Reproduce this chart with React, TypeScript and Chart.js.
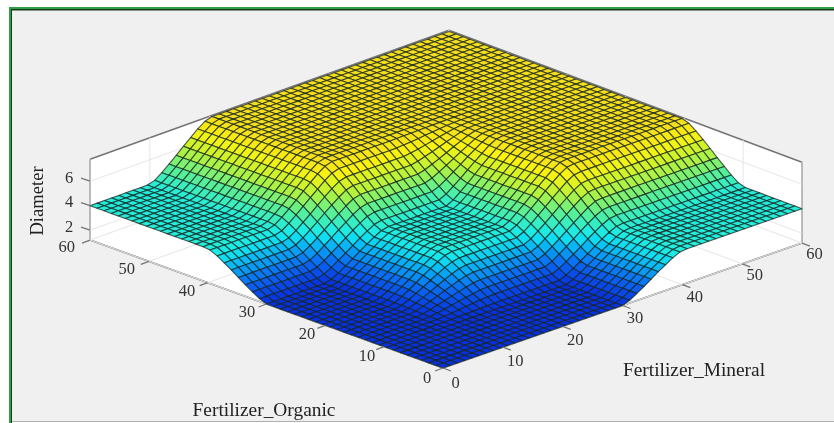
import React, { useEffect, useRef } from "react";
import { Chart, registerables } from "chart.js";

Chart.register(...registerables);

const organicTicks = [0, 10, 20, 30, 40, 50, 60];
const mineralTicks = [0, 10, 20, 30, 40, 50, 60];
const diameterTicks = [2, 4, 6];
const organicTitle = "Fertilizer_Organic";
const mineralTitle = "Fertilizer_Mineral";
const diameterTitle = "Diameter";
const diameterRange = [1.2, 7.8];
const meshSteps = 50;

// Surface heights.
// Rows/columns: 0 = inputs 0-10, 1..9 = inputs 11..19, 10 = inputs 20-30, 11..19 = inputs 31..39, 20 = inputs 40-60.
const diameterTable = [
  [1.2, 1.2, 1.2, 1.2, 1.2, 1.2, 1.2, 1.2, 1.2, 1.2, 1.2, 1.37, 1.65, 1.96, 2.26, 2.6, 2.94, 3.24, 3.55, 3.83, 4],
  [1.2, 1.21, 1.23, 1.25, 1.26, 1.28, 1.3, 1.32, 1.34, 1.36, 1.37, 1.54, 1.83, 2.14, 2.45, 2.8, 3.14, 3.45, 3.76, 4.05, 4.22],
  [1.2, 1.23, 1.27, 1.32, 1.37, 1.42, 1.48, 1.53, 1.58, 1.62, 1.65, 1.83, 2.12, 2.45, 2.76, 3.12, 3.48, 3.79, 4.12, 4.41, 4.59],
  [1.2, 1.25, 1.32, 1.41, 1.49, 1.58, 1.67, 1.75, 1.83, 1.91, 1.96, 2.14, 2.44, 2.78, 3.11, 3.48, 3.84, 4.17, 4.51, 4.82, 5],
  [1.2, 1.26, 1.37, 1.49, 1.6, 1.73, 1.86, 1.98, 2.09, 2.2, 2.26, 2.45, 2.77, 3.12, 3.46, 3.84, 4.21, 4.55, 4.9, 5.22, 5.41],
  [1.2, 1.29, 1.43, 1.58, 1.73, 1.9, 2.07, 2.22, 2.38, 2.52, 2.6, 2.8, 3.12, 3.48, 3.84, 4.23, 4.62, 4.97, 5.33, 5.66, 5.85],
  [1.2, 1.31, 1.48, 1.67, 1.86, 2.07, 2.28, 2.46, 2.66, 2.83, 2.94, 3.14, 3.47, 3.84, 4.21, 4.62, 5.02, 5.39, 5.76, 6.09, 6.29],
  [1.2, 1.32, 1.53, 1.75, 1.97, 2.22, 2.47, 2.69, 2.92, 3.12, 3.24, 3.45, 3.8, 4.18, 4.56, 4.97, 5.39, 5.77, 6.15, 6.49, 6.7],
  [1.2, 1.34, 1.58, 1.84, 2.09, 2.38, 2.66, 2.91, 3.17, 3.4, 3.55, 3.76, 4.12, 4.51, 4.91, 5.33, 5.75, 6.15, 6.54, 6.9, 7.11],
  [1.2, 1.36, 1.62, 1.91, 2.2, 2.52, 2.84, 3.12, 3.41, 3.67, 3.83, 4.05, 4.41, 4.82, 5.22, 5.66, 6.09, 6.49, 6.9, 7.26, 7.48],
  [1.2, 1.37, 1.65, 1.96, 2.26, 2.6, 2.94, 3.24, 3.55, 3.83, 4, 4.22, 4.59, 5, 5.41, 5.85, 6.29, 6.7, 7.11, 7.48, 7.7],
  [1.37, 1.54, 1.83, 2.14, 2.45, 2.8, 3.14, 3.45, 3.76, 4.05, 4.22, 4.43, 4.78, 5.16, 5.55, 5.96, 6.37, 6.76, 7.15, 7.49, 7.7],
  [1.65, 1.83, 2.12, 2.44, 2.77, 3.12, 3.47, 3.8, 4.12, 4.41, 4.59, 4.78, 5.09, 5.43, 5.78, 6.15, 6.52, 6.86, 7.2, 7.52, 7.7],
  [1.96, 2.14, 2.45, 2.78, 3.12, 3.48, 3.84, 4.18, 4.51, 4.82, 5, 5.16, 5.43, 5.73, 6.03, 6.35, 6.67, 6.97, 7.27, 7.54, 7.7],
  [2.26, 2.45, 2.76, 3.11, 3.46, 3.84, 4.21, 4.56, 4.91, 5.22, 5.41, 5.55, 5.78, 6.03, 6.28, 6.55, 6.83, 7.08, 7.33, 7.56, 7.7],
  [2.6, 2.8, 3.12, 3.48, 3.84, 4.23, 4.62, 4.97, 5.33, 5.66, 5.85, 5.96, 6.15, 6.35, 6.55, 6.78, 7, 7.2, 7.41, 7.59, 7.7],
  [2.94, 3.14, 3.48, 3.84, 4.21, 4.62, 5.02, 5.39, 5.75, 6.09, 6.29, 6.37, 6.52, 6.67, 6.83, 7, 7.16, 7.32, 7.48, 7.62, 7.7],
  [3.24, 3.45, 3.79, 4.17, 4.55, 4.97, 5.39, 5.77, 6.15, 6.49, 6.7, 6.76, 6.86, 6.97, 7.08, 7.2, 7.32, 7.43, 7.54, 7.64, 7.7],
  [3.55, 3.76, 4.12, 4.51, 4.9, 5.33, 5.76, 6.15, 6.54, 6.9, 7.11, 7.15, 7.2, 7.27, 7.33, 7.41, 7.48, 7.54, 7.61, 7.66, 7.7],
  [3.83, 4.05, 4.41, 4.82, 5.22, 5.66, 6.09, 6.49, 6.9, 7.26, 7.48, 7.49, 7.52, 7.54, 7.56, 7.59, 7.62, 7.64, 7.66, 7.68, 7.7],
  [4, 4.22, 4.59, 5, 5.41, 5.85, 6.29, 6.7, 7.11, 7.48, 7.7, 7.7, 7.7, 7.7, 7.7, 7.7, 7.7, 7.7, 7.7, 7.7, 7.7],
];

const colorStops: [number, number[]][] = [
  [1.2, [8, 48, 222]],
  [2.2, [10, 108, 245]],
  [3.0, [8, 176, 246]],
  [3.6, [18, 232, 240]],
  [4.0, [36, 236, 218]],
  [5.0, [96, 240, 140]],
  [6.0, [186, 242, 56]],
  [7.0, [250, 242, 16]],
  [7.7, [246, 222, 28]],
];

const SERIF = '"Liberation Serif", serif';

function project(organic: number, mineral: number, z: number) {
  return {
    x: 443 + 5.983 * mineral - 5.883 * organic,
    y: 368 - 2.083 * mineral - 2.133 * organic - (4 * organic * mineral) / 3600 - (z - diameterRange[0]) * 12.25,
  };
}

function tablePos(v: number) {
  if (v <= 10) return 0;
  if (v < 20) return v - 10;
  if (v <= 30) return 10;
  if (v < 40) return v - 20;
  return 20;
}

function tableValue(organic: number, mineral: number) {
  const p = tablePos(organic);
  const q = tablePos(mineral);
  const i = Math.min(Math.floor(p), 19);
  const j = Math.min(Math.floor(q), 19);
  const s = p - i;
  const t = q - j;
  const T = diameterTable;
  return (
    T[i][j] * (1 - s) * (1 - t) + T[i + 1][j] * s * (1 - t) + T[i][j + 1] * (1 - s) * t + T[i + 1][j + 1] * s * t
  );
}

function colorFor(z: number) {
  for (let i = 1; i < colorStops.length; i++) {
    if (z <= colorStops[i][0]) {
      const [z0, c0] = colorStops[i - 1];
      const [z1, c1] = colorStops[i];
      const t = Math.max(0, (z - z0) / (z1 - z0));
      return `rgb(${c0.map((c, n) => Math.round(c + (c1[n] - c) * t)).join(",")})`;
    }
  }
  return `rgb(${colorStops[colorStops.length - 1][1].join(",")})`;
}

const maxO = organicTicks[organicTicks.length - 1];
const maxM = mineralTicks[mineralTicks.length - 1];
const [zMin, zMax] = diameterRange;

function segment(a: number[], b: number[], color: string, width: number) {
  return {
    type: "scatter" as const,
    data: [project(a[0], a[1], a[2]), project(b[0], b[1], b[2])],
    showLine: true,
    borderColor: color,
    borderWidth: width,
    pointRadius: 0,
    fill: false,
  };
}

function buildBoxDatasets() {
  const out: any[] = [];
  const GRID = "#e6e6e6";
  const AXIS = "#757575";
  organicTicks.forEach((o) => {
    out.push(segment([o, 0, zMin], [o, maxM, zMin], GRID, 1));
    out.push(segment([o, maxM, zMin], [o, maxM, zMax], GRID, 1));
  });
  mineralTicks.forEach((m) => {
    out.push(segment([0, m, zMin], [maxO, m, zMin], GRID, 1));
    out.push(segment([maxO, m, zMin], [maxO, m, zMax], GRID, 1));
  });
  diameterTicks.forEach((z) => {
    out.push(segment([maxO, 0, z], [maxO, maxM, z], GRID, 1));
    out.push(segment([maxO, maxM, z], [0, maxM, z], GRID, 1));
  });
  out.push(segment([0, 0, zMin], [maxO, 0, zMin], AXIS, 1.6));
  out.push(segment([0, 0, zMin], [0, maxM, zMin], AXIS, 1.6));
  out.push(segment([maxO, 0, zMin], [maxO, 0, zMax], AXIS, 1.6));
  out.push(segment([0, maxM, zMin], [0, maxM, zMax], AXIS, 1.6));
  out.push(segment([maxO, 0, zMax], [maxO, maxM, zMax], AXIS, 1.6));
  out.push(segment([0, maxM, zMax], [maxO, maxM, zMax], AXIS, 1.6));
  return out;
}

function buildSurfacePoints() {
  const pts: any[] = [];
  for (let i = 0; i <= meshSteps; i++) {
    for (let j = 0; j <= meshSteps; j++) {
      const o = (i * maxO) / meshSteps;
      const m = (j * maxM) / meshSteps;
      const z = tableValue(o, m);
      pts.push({ ...project(o, m, z), z });
    }
  }
  return pts;
}

const surfacePlugin = {
  id: "surface3d",
  beforeDatasetsDraw(chart: any) {
    const { ctx, scales } = chart;
    const px = (p: { x: number; y: number }) => [scales.x.getPixelForValue(p.x), scales.y.getPixelForValue(p.y)];
    ctx.save();
    ctx.fillStyle = "#ffffff";
    ctx.fillRect(0, 0, 834, 423);
    ctx.fillStyle = "#f0f0f0";
    ctx.fillRect(10, 9, 824, 412);
    ctx.fillStyle = "#b0b0b0";
    ctx.fillRect(10, 421, 824, 1);
    ctx.fillStyle = "#2f9e44";
    ctx.fillRect(9, 7, 825, 2);
    ctx.fillRect(9, 7, 2, 416);
    ctx.fillStyle = "#153a1c";
    ctx.fillRect(11, 9, 823, 1.5);
    ctx.fillRect(11, 9, 1, 414);
    ctx.fillStyle = "#ffffff";
    const polys = [
      [[0, 0, zMin], [0, maxM, zMin], [maxO, maxM, zMin], [maxO, 0, zMin]],
      [[maxO, 0, zMin], [maxO, maxM, zMin], [maxO, maxM, zMax], [maxO, 0, zMax]],
      [[0, maxM, zMin], [maxO, maxM, zMin], [maxO, maxM, zMax], [0, maxM, zMax]],
    ];
    polys.forEach((poly) => {
      ctx.beginPath();
      poly.forEach((v, n) => {
        const [x, y] = px(project(v[0], v[1], v[2]));
        if (n) ctx.lineTo(x, y);
        else ctx.moveTo(x, y);
      });
      ctx.closePath();
      ctx.fill();
    });
    ctx.restore();
  },
  afterDatasetsDraw(chart: any) {
    const { ctx, scales } = chart;
    const meta = chart.getDatasetMeta(0);
    const pts = meta.data;
    const raw = chart.data.datasets[0].data;
    const n = meshSteps + 1;
    ctx.save();
    ctx.lineWidth = 1.1;
    ctx.lineJoin = "round";
    ctx.strokeStyle = "rgba(22,38,34,0.75)";
    for (let i = n - 2; i >= 0; i--) {
      for (let j = n - 2; j >= 0; j--) {
        const a = i * n + j;
        const b = a + 1;
        const c = a + n + 1;
        const d = a + n;
        ctx.beginPath();
        ctx.moveTo(pts[a].x, pts[a].y);
        ctx.lineTo(pts[b].x, pts[b].y);
        ctx.lineTo(pts[c].x, pts[c].y);
        ctx.lineTo(pts[d].x, pts[d].y);
        ctx.closePath();
        ctx.fillStyle = colorFor((raw[a].z + raw[b].z + raw[c].z + raw[d].z) / 4);
        ctx.fill();
        ctx.stroke();
      }
    }
    ctx.restore();

    const X = (v: number) => scales.x.getPixelForValue(v);
    const Y = (v: number) => scales.y.getPixelForValue(v);
    ctx.save();
    ctx.strokeStyle = "#757575";
    ctx.lineWidth = 1.3;
    ctx.fillStyle = "#333333";
    ctx.font = `16.5px ${SERIF}`;
    ctx.textAlign = "center";
    ctx.textBaseline = "middle";
    const tick = (p: { x: number; y: number }, dx: number, dy: number) => {
      ctx.beginPath();
      ctx.moveTo(X(p.x), Y(p.y));
      ctx.lineTo(X(p.x) + dx, Y(p.y) + dy);
      ctx.stroke();
    };
    organicTicks.forEach((o) => {
      const p = project(o, 0, zMin);
      tick(p, -8, 3);
      ctx.fillText(String(o), X(p.x) - 16 - o * 0.12, Y(p.y) + 10.5 - o * 0.05);
    });
    mineralTicks.forEach((m) => {
      const p = project(0, m, zMin);
      tick(p, 8, 3);
      ctx.fillText(String(m), X(p.x) + 12.5, Y(p.y) + 15.5 - m * 0.07);
    });
    diameterTicks.forEach((z) => {
      const p = project(maxO, 0, z);
      tick(p, -9, -3);
      ctx.fillText(String(z), X(p.x) - 21, Y(p.y) - 3);
    });
    ctx.font = `19.4px ${SERIF}`;
    ctx.fillStyle = "#222222";
    ctx.fillText(mineralTitle, 694, 371);
    ctx.fillText(organicTitle, 264, 411);
    ctx.save();
    ctx.translate(38, 201);
    ctx.rotate(-Math.PI / 2);
    ctx.font = `18.6px ${SERIF}`;
    ctx.fillText(diameterTitle, 0, 0);
    ctx.restore();
    ctx.restore();
  },
};

export default function App() {
  const ref = useRef<HTMLCanvasElement | null>(null);
  useEffect(() => {
    document.body.style.margin = "0";
    document.body.style.background = "#ffffff";
    const chart = new Chart(ref.current as HTMLCanvasElement, {
      type: "scatter",
      data: {
        datasets: [
          {
            label: diameterTitle,
            data: buildSurfacePoints(),
            pointRadius: 0,
            showLine: false,
          } as any,
          ...buildBoxDatasets(),
        ],
      },
      options: {
        animation: false,
        responsive: false,
        layout: { padding: 0 },
        events: [],
        plugins: { legend: { display: false }, tooltip: { enabled: false } },
        scales: {
          x: { type: "linear", display: false, min: 0, max: 834 },
          y: { type: "linear", display: false, min: 0, max: 423, reverse: true },
        },
      },
      plugins: [surfacePlugin],
    });
    return () => chart.destroy();
  }, []);
  return (
    <canvas
      ref={ref}
      width={834}
      height={423}
      style={{ display: "block", width: 834, height: 423, filter: "blur(0.5px)" }}
    />
  );
}
